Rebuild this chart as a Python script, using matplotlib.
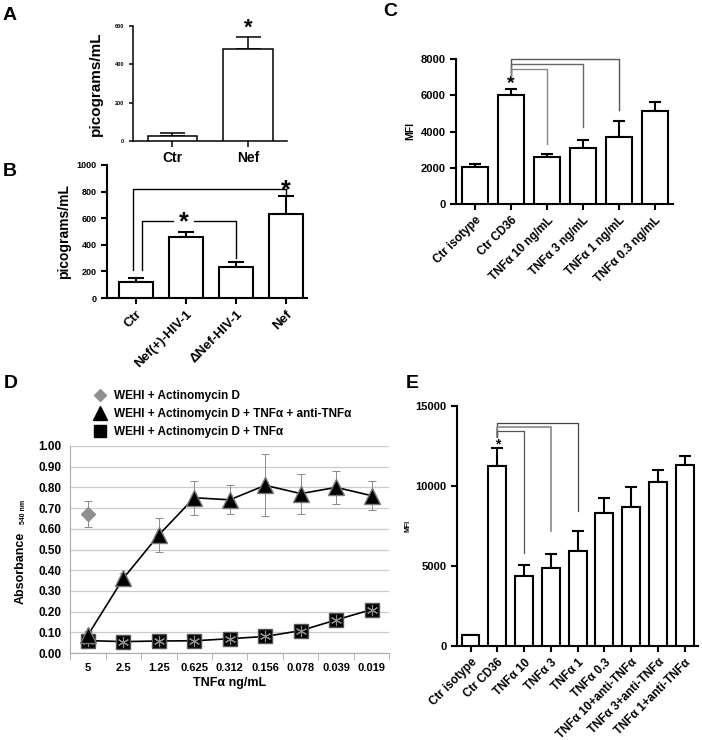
import matplotlib.pyplot as plt
from matplotlib.lines import Line2D
import numpy as np

plt.rcParams['font.family'] = ['Liberation Sans', 'DejaVu Sans']
plt.rcParams['font.weight'] = 'bold'
plt.rcParams['axes.labelweight'] = 'bold'

# data
a_labels = ['Ctr', 'Nef']
a_vals = [27, 480]
a_err = [15, 63]

b_labels = ['Ctr', 'Nef(+)-HIV-1', '\u0394Nef-HIV-1', 'Nef']
b_vals = [122, 456, 231, 629]
b_err = [26, 38, 37, 138]

c_labels = ['Ctr isotype', 'Ctr CD36', 'TNF\u03b1 10 ng/mL', 'TNF\u03b1 3 ng/mL',
            'TNF\u03b1 1 ng/mL', 'TNF\u03b1 0.3 ng/mL']
c_vals = [2030, 6010, 2620, 3080, 3720, 5140]
c_err = [180, 330, 150, 460, 870, 480]

d_doses = ['5', '2.5', '1.25', '0.625', '0.312', '0.156', '0.078', '0.039', '0.019']
d_anti = [0.085, 0.36, 0.57, 0.75, 0.74, 0.81, 0.77, 0.80, 0.76]
d_anti_err = [0.02, 0.025, 0.08, 0.082, 0.07, 0.15, 0.097, 0.08, 0.07]
d_tnf = [0.06, 0.055, 0.058, 0.059, 0.069, 0.08, 0.108, 0.16, 0.21]
d_ctrl = [0.672]
d_ctrl_err = [0.064]

e_labels = ['Ctr isotype', 'Ctr CD36', 'TNF\u03b1 10', 'TNF\u03b1 3', 'TNF\u03b1 1', 'TNF\u03b1 0.3',
            'TNF\u03b1 10+anti-TNF\u03b1', 'TNF\u03b1 3+anti-TNF\u03b1', 'TNF\u03b1 1+anti-TNF\u03b1']
e_vals = [660, 11220, 4350, 4900, 5940, 8320, 8700, 10250, 11320]
e_err = [0, 1160, 700, 870, 1260, 950, 1240, 770, 540]

W, H = 702, 740
fig = plt.figure(figsize=(W / 100, H / 100), dpi=100)


def box(x0, y0, x1, y1):
    return [x0 / W, 1 - y1 / H, (x1 - x0) / W, (y1 - y0) / H]


def bars(ax, vals, errs, width, lw, cap):
    x = np.arange(len(vals))
    ax.bar(x, vals, width, color='white', edgecolor='black', linewidth=lw, zorder=3)
    ax.errorbar(x, vals, yerr=[np.zeros(len(errs)), errs], fmt='none', ecolor='black',
                elinewidth=lw, capsize=cap, capthick=lw, zorder=2)
    for s in ['top', 'right']:
        ax.spines[s].set_visible(False)
    for s in ['left', 'bottom']:
        ax.spines[s].set_linewidth(lw)
    ax.tick_params(direction='out', width=lw, length=4)
    ax.set_xticks(x)
    return x


def bracket(ax, x0, x1, top, y0, y1, color='black', lw=1.0):
    ax.plot([x0, x0, x1, x1], [y0, top, top, y1], color=color, lw=lw, clip_on=False, zorder=4)


# ---- A
ax = fig.add_axes(box(133, 26, 287, 141))
bars(ax, a_vals, a_err, 0.66, 1.1, 9)
ax.set_xlim(-0.523, 1.517)
ax.set_ylim(0, 600)
ax.set_yticks([0, 200, 400, 600])
ax.tick_params(axis='y', labelsize=4, length=3)
ax.set_xticklabels(a_labels, fontsize=10)
ax.set_ylabel('picograms/mL', fontsize=11, labelpad=8)
ax.text(1, 590, '*', ha='center', va='center', fontsize=16)
fig.text(3 / W, 1 - 16 / H, 'A', fontsize=14, va='center')

# ---- B
ax = fig.add_axes(box(107, 165, 307, 298))
bars(ax, b_vals, b_err, 0.68, 1.5, 6)
ax.set_xlim(-0.58, 3.42)
ax.set_ylim(0, 1000)
ax.set_yticks(range(0, 1001, 200))
ax.tick_params(axis='y', labelsize=6.5)
ax.set_xticklabels(b_labels, fontsize=9.5, rotation=45, ha='right', rotation_mode='anchor')
ax.set_ylabel('picograms/mL', fontsize=10, labelpad=4)
bracket(ax, -0.06, 3.0, 820, 210, 770)
ax.plot([0.12, 0.12, 0.74], [210, 580, 580], color='black', lw=1.0, clip_on=False)
ax.plot([1.16, 2.0, 2.0], [580, 580, 300], color='black', lw=1.0, clip_on=False)
ax.text(0.96, 570, '*', ha='center', va='center', fontsize=18)
ax.text(3.0, 810, '*', ha='center', va='center', fontsize=18)
fig.text(3 / W, 1 - 172 / H, 'B', fontsize=14, va='center')

# ---- C
ax = fig.add_axes(box(456, 59, 673, 204))
bars(ax, c_vals, c_err, 0.72, 1.5, 4)
ax.set_xlim(-0.53, 5.5)
ax.set_ylim(0, 8000)
ax.set_yticks(range(0, 8001, 2000))
ax.tick_params(axis='y', labelsize=8)
ax.set_xticklabels(c_labels, fontsize=8.5, rotation=45, ha='right', rotation_mode='anchor')
ax.set_ylabel('MFI', fontsize=7.5, labelpad=4)
bracket(ax, 1.0, 4.0, 8000, 7060, 5190, color='#555555')
bracket(ax, 1.0, 3.0, 7710, 7060, 4270, color='#666666')
bracket(ax, 1.0, 2.0, 7450, 7060, 3310, color='#888888')
ax.text(1.0, 6650, '*', ha='center', va='center', fontsize=14)
fig.text(383 / W, 1 - 12 / H, 'C', fontsize=14, va='center')

# ---- D
ax = fig.add_axes(box(70, 446, 389.5, 653))
xd = np.arange(len(d_doses))
grey = '#8a8a8a'
ax.set_axisbelow(True)
ax.grid(axis='y', color='#cccccc', lw=0.9)
ax.errorbar(xd, d_anti, yerr=d_anti_err, fmt='none', ecolor=grey, elinewidth=0.7,
            capsize=3, capthick=0.7, zorder=2)
ax.errorbar([0], d_ctrl, yerr=d_ctrl_err, fmt='none', ecolor=grey, elinewidth=0.7,
            capsize=3, capthick=0.7, zorder=2)
ax.plot(xd, d_tnf, color='black', lw=1.2, marker='s', markersize=10,
        markerfacecolor='black', markeredgecolor='#555555', zorder=3)
ax.plot(xd, d_tnf, ls='none', marker=(6, 2, 0), markersize=8, markeredgecolor='#909090',
        markeredgewidth=0.8, zorder=4)
ax.plot(xd, d_anti, color='black', lw=1.2, marker='^', markersize=11,
        markerfacecolor='black', markeredgecolor='#777777', zorder=5)
ax.plot([0], d_ctrl, ls='none', marker='D', markersize=7, color='#909090', zorder=5)
ax.set_xlim(-0.5, 8.5)
ax.set_ylim(0, 1.0)
ax.set_yticks(np.arange(0, 1.01, 0.1))
ax.set_yticklabels(['%.2f' % v for v in np.arange(0, 1.01, 0.1)])
ax.set_xticks(xd)
ax.set_xticklabels(d_doses)
ax.set_xticks(np.arange(-0.5, 8.6, 1), minor=True)
ax.tick_params(axis='x', which='major', length=0, labelsize=8, pad=7)
ax.tick_params(axis='x', which='minor', length=5, color='#aaaaaa', direction='out')
ax.tick_params(axis='y', length=0, labelsize=8.5, pad=6)
for s in ['top', 'right']:
    ax.spines[s].set_visible(False)
for s in ['left', 'bottom']:
    ax.spines[s].set_color('#aaaaaa')
ax.set_xlabel('TNF\u03b1 ng/mL', fontsize=9, labelpad=3)
ax.text(-0.155, 0.41, 'Absorbance', rotation=90, transform=ax.transAxes, fontsize=9,
        ha='center', va='center')
ax.text(-0.145, 0.68, '540 nm', rotation=90, transform=ax.transAxes, fontsize=5,
        ha='center', va='center')
handles = [Line2D([], [], ls='none', marker='D', markersize=6, color='#909090'),
           Line2D([], [], ls='none', marker='^', markersize=10, color='black'),
           Line2D([], [], ls='none', marker='s', markersize=9, color='black')]
ax.legend(handles, ['WEHI + Actinomycin D', 'WEHI + Actinomycin D + TNF\u03b1 + anti-TNF\u03b1',
                    'WEHI + Actinomycin D + TNF\u03b1'],
          loc='upper left', bbox_to_anchor=(0.072, 1.27), frameon=False, fontsize=8.5,
          handlelength=1.2, handletextpad=0.6, borderpad=0, borderaxespad=0, labelspacing=0.5)
fig.text(4 / W, 1 - 383 / H, 'D', fontsize=14, va='center')

# ---- E
ax = fig.add_axes(box(457, 406, 698, 646))
bars(ax, e_vals, e_err, 0.67, 1.5, 4)
ax.set_xlim(-0.505, 8.5)
ax.set_ylim(0, 15000)
ax.set_yticks([0, 5000, 10000, 15000])
ax.tick_params(axis='y', labelsize=8)
ax.set_xticklabels(e_labels, fontsize=8.5, rotation=45, ha='right', rotation_mode='anchor')
ax.set_ylabel('MFI', fontsize=5, labelpad=3)
bracket(ax, 1.0, 4.0, 13960, 13080, 8430, color='#444444', lw=0.9)
bracket(ax, 1.0, 3.0, 13710, 13080, 7200, color='#888888', lw=1.2)
bracket(ax, 1.0, 2.0, 13460, 13080, 5800, color='#555555', lw=0.9)
ax.text(1.0, 12600, '*', ha='center', va='center', fontsize=10)
fig.text(406 / W, 1 - 383 / H, 'E', fontsize=14, va='center')

fig.savefig('out.png', dpi=100)
